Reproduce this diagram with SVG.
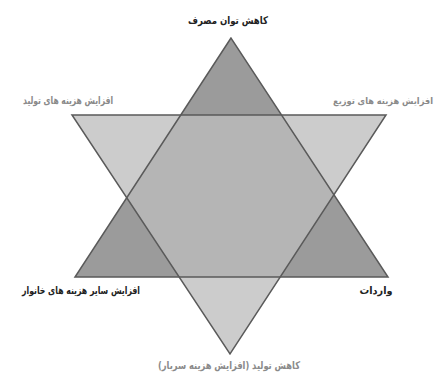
<svg xmlns="http://www.w3.org/2000/svg" width="443" height="376" viewBox="0 0 443 376">
<style>
.lbl{font-family:"DejaVu Sans",sans-serif;font-weight:bold;font-size:10.5px;text-anchor:middle;direction:rtl}
.sm{font-size:9px}
.dk{fill:#222}
.gr{fill:#8a8a8a}
.edge{fill:none;stroke:#5a5a5a;stroke-width:1.5;stroke-linejoin:miter}
</style>
<rect width="443" height="376" fill="#fff"/>
<g id="shapes">
<polygon id="up" points="231,38 75,277 388,277" fill="#9b9b9b"/>
<polygon id="down" points="72,115 386,115 230,354" fill="#bcbcbc" fill-opacity="0.77"/>
</g>
<g id="connectors">
<polygon class="edge" points="231,38 75,277 388,277"/>
<polygon class="edge" points="72,115 386,115 230,354"/>
</g>
<g id="n-top"><text class="lbl dk" x="228" y="24" textLength="80" lengthAdjust="spacingAndGlyphs">کاهش توان مصرف</text></g>
<g id="n-topleft"><text class="lbl gr" x="68" y="104" textLength="90" lengthAdjust="spacingAndGlyphs">افزایش هزینه های تولید</text></g>
<g id="n-topright"><text class="lbl gr sm" x="383" y="104" textLength="100" lengthAdjust="spacingAndGlyphs">افزایش هزینه های توزیع</text></g>
<g id="n-bottomleft"><text class="lbl dk" x="81" y="294" textLength="118" lengthAdjust="spacingAndGlyphs">افزایش سایر هزینه های خانوار</text></g>
<g id="n-bottomright"><text class="lbl dk" x="376" y="294" textLength="33" lengthAdjust="spacingAndGlyphs">واردات</text></g>
<g id="n-bottom"><text class="lbl gr" x="229" y="369" textLength="142" lengthAdjust="spacingAndGlyphs">کاهش تولید (افزایش هزینه سربار)</text></g>
</svg>
